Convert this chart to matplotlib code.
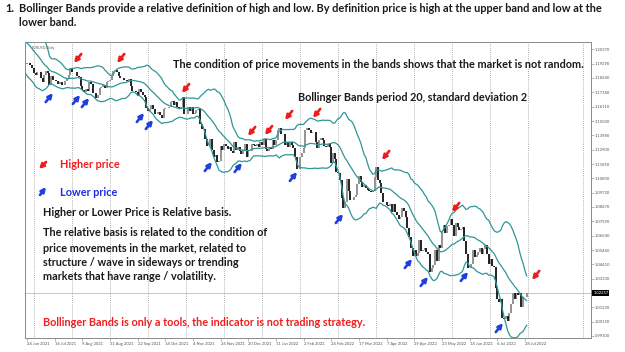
import numpy as np
import pandas as pd
import matplotlib
matplotlib.use('Agg')
import matplotlib.pyplot as plt
from matplotlib import transforms

plt.rcParams['font.family'] = ['Lato', 'DejaVu Sans']

# EURUSD daily closes (24 May 2021 - 23 Jun 2021 only feed the 20-day bands)
close_warmup = [1.2215, 1.2250, 1.2193, 1.2193, 1.2193, 1.2225,
                1.2213, 1.2212, 1.2127, 1.2167, 1.2190, 1.2172, 1.2178, 1.2174, 1.2108,
                1.2119, 1.2126, 1.1994, 1.1906, 1.1864, 1.1918, 1.1941, 1.1926]
close_2021_06 = [1.1933, 1.1937, 1.1923, 1.1895, 1.1858]
close_2021_07 = [1.1847, 1.1865, 1.1867, 1.1823, 1.1791, 1.1844, 1.1876, 1.1861, 1.1775, 1.1835, 1.1812,
                 1.1806, 1.1800, 1.1781, 1.1794, 1.1771, 1.1770, 1.1803, 1.1818, 1.1843, 1.1888, 1.1871]
close_2021_08 = [1.1870, 1.1866, 1.1835, 1.1834, 1.1762, 1.1736, 1.1718, 1.1739, 1.1730, 1.1795, 1.1778,
                 1.1712, 1.1710, 1.1676, 1.1700, 1.1747, 1.1755, 1.1773, 1.1752, 1.1795, 1.1799, 1.1808]
close_2021_09 = [1.1839, 1.1874, 1.1880, 1.1870, 1.1840, 1.1820, 1.1825, 1.1812, 1.1807, 1.1805, 1.1818,
                 1.1765, 1.1725, 1.1727, 1.1722, 1.1690, 1.1740, 1.1720, 1.1695, 1.1682, 1.1600, 1.1580]
close_2021_10 = [1.1595, 1.1620, 1.1597, 1.1555, 1.1553, 1.1570, 1.1550, 1.1530, 1.1595, 1.1598, 1.1600,
                 1.1610, 1.1645, 1.1655, 1.1625, 1.1645, 1.1606, 1.1598, 1.1605, 1.1680, 1.1557, 1.1560]
close_2021_11 = [1.1607, 1.1580, 1.1610, 1.1555, 1.1567, 1.1588, 1.1590, 1.1480, 1.1445, 1.1445, 1.1368,
                 1.1320, 1.1320, 1.1370, 1.1287, 1.1237, 1.1250, 1.1197, 1.1210, 1.1317, 1.1290, 1.1337]
close_2021_12 = [1.1320, 1.1300, 1.1315, 1.1285, 1.1265, 1.1345, 1.1290, 1.1315, 1.1285, 1.1258, 1.1290,
                 1.1330, 1.1238, 1.1280, 1.1285, 1.1330, 1.1325, 1.1320, 1.1330, 1.1310, 1.1350, 1.1325, 1.1370]
close_2022_01 = [1.1295, 1.1285, 1.1315, 1.1295, 1.1360, 1.1325, 1.1365, 1.1440, 1.1455, 1.1410, 1.1408,
                 1.1325, 1.1345, 1.1310, 1.1345, 1.1325, 1.1305, 1.1240, 1.1145, 1.1150, 1.1235]
close_2022_02 = [1.1270, 1.1305, 1.1440, 1.1450, 1.1440, 1.1415, 1.1425, 1.1425, 1.1350, 1.1305,
                 1.1360, 1.1375, 1.1360, 1.1320, 1.1310, 1.1330, 1.1310, 1.1190, 1.1270, 1.1220]
close_2022_03 = [1.1125, 1.1120, 1.1065, 1.0930, 1.0855, 1.0905, 1.1075, 1.0985, 1.0915, 1.0920, 1.0940,
                 1.0955, 1.1035, 1.1095, 1.1050, 1.1015, 1.1030, 1.1005, 1.0995, 1.0985, 1.0980, 1.0985,
                 1.1090, 1.1160, 1.1065]
close_2022_04 = [1.1045, 1.0970, 1.0905, 1.0900, 1.0880, 1.0875, 1.0885, 1.0830, 1.0890, 1.0825, 1.0810,
                 1.0780, 1.0790, 1.0855, 1.0835, 1.0795, 1.0710, 1.0640, 1.0560, 1.0500, 1.0545]
close_2022_05 = [1.0505, 1.0525, 1.0620, 1.0540, 1.0550, 1.0560, 1.0530, 1.0515, 1.0380, 1.0410, 1.0435,
                 1.0550, 1.0465, 1.0585, 1.0565, 1.0690, 1.0735, 1.0675, 1.0725, 1.0735, 1.0780, 1.0735]
close_2022_06 = [1.0650, 1.0750, 1.0720, 1.0695, 1.0705, 1.0715, 1.0615, 1.0520, 1.0410, 1.0415, 1.0445,
                 1.0550, 1.0495, 1.0510, 1.0535, 1.0565, 1.0520, 1.0555, 1.0585, 1.0520, 1.0445, 1.0480]
close_2022_07 = [1.0425, 1.0420, 1.0265, 1.0180, 1.0160, 1.0185, 1.0040, 1.0035, 1.0060, 1.0020, 1.0080,
                 1.0145, 1.0225, 1.0180, 1.0230, 1.0210, 1.0225, 1.0125, 1.0200, 1.0195, 1.02257]

date_labels = ['24 Jun 2021', '16 Jul 2021', '9 Aug 2021', '31 Aug 2021', '22 Sep 2021', '14 Oct 2021',
               '4 Nov 2021', '26 Nov 2021', '20 Dec 2021', '11 Jan 2022', '2 Feb 2022', '24 Feb 2022',
               '17 Mar 2022', '7 Apr 2022', '29 Apr 2022', '23 May 2022', '14 Jun 2022', '6 Jul 2022',
               '28 Jul 2022']
price_ticks = [1.20370, 1.19290, 1.18240, 1.17180, 1.16110, 1.15030, 1.13980, 1.12900, 1.11850, 1.10800,
               1.09720, 1.08670, 1.07590, 1.06540, 1.05460, 1.04410, 1.03330, 1.01230, 1.00150, 0.99100]
last_price = 1.02257

# arrows: (bar, price) of the arrow tip
red_tips_bar = [27.2, 52.1, 89.6, 127.8, 137.6, 149.2, 165.4, 205.3, 245.8, 292.1]
red_tips_px = [1.1935, 1.1935, 1.1712, 1.1393, 1.1400, 1.1512, 1.1527, 1.1215, 1.0829, 1.0324]
blue_tips_bar = [15.0, 30.7, 35.9, 67.7, 72.9, 107.0, 124.3, 156.2, 182.8, 222.7, 231.9, 255.1, 275.3]
blue_tips_px = [1.1712, 1.1698, 1.1675, 1.1564, 1.1512, 1.1200, 1.1193, 1.1126, 1.0814, 1.0480,
                1.0347, 1.0384, 1.0004]

closes = np.array(close_warmup + close_2021_06 + close_2021_07 + close_2021_08 + close_2021_09 +
                  close_2021_10 + close_2021_11 + close_2021_12 + close_2022_01 + close_2022_02 +
                  close_2022_03 + close_2022_04 + close_2022_05 + close_2022_06 + close_2022_07)
x = np.arange(len(closes)) - len(close_warmup)
opens = np.r_[closes[0], closes[:-1]]

s = pd.Series(closes)
mid = s.rolling(20).mean()
sd = s.rolling(20).std(ddof=0)
upper = mid + 2 * sd
lower = mid - 2 * sd

W, H = 625, 352
fig = plt.figure(figsize=(W / 100, H / 100), dpi=100)
ax = fig.add_axes([25 / W, (H - 338) / H, 566 / W, 296 / H])
ax.set_xlim(-1.16, 326.2)
ax.set_ylim(0.9893, 1.2091)

teal = '#2f9696'
for grid_bar in list(range(4, 292, 22)) + [321.5]:
    ax.axvline(grid_bar, color='#9a9a9a', lw=0.6, ls=(0, (1, 1.5)), zorder=0)
ax.axhline(last_price, color='#c8c8c8', lw=0.7, zorder=0)

up = closes >= opens
ax.vlines(x[up], opens[up], closes[up], color='#8a8a8a', lw=1.3, zorder=2)
ax.vlines(x[~up], opens[~up], closes[~up], color='#111111', lw=1.3, zorder=2)
for band in (upper, mid, lower):
    ax.plot(x, band, color=teal, lw=0.9, zorder=3)

arrow_kw = dict(arrowstyle='-|>', lw=1.9, mutation_scale=6.5, shrinkA=0, shrinkB=0)
for bx, by in zip(red_tips_bar, red_tips_px):
    ax.annotate('', xy=(bx, by), xytext=(5.2, 6.5), textcoords='offset points',
                arrowprops=dict(color='#ee1c1c', **arrow_kw), zorder=5)
for bx, by in zip(blue_tips_bar, blue_tips_px):
    ax.annotate('', xy=(bx, by), xytext=(-5.2, -6.5), textcoords='offset points',
                arrowprops=dict(color='#1f3fe0', **arrow_kw), zorder=5)

ax.yaxis.tick_right()
ax.set_yticks(price_ticks)
ax.set_yticklabels(['%.5f' % p for p in price_ticks], fontsize=3, color='#555555')
ax.set_xticks(np.arange(len(date_labels)) * 16)
ax.set_xticklabels(date_labels, fontsize=3, color='#555555', ha='left')
ax.tick_params(length=2, width=0.4, color='#888888', pad=1)
for sp in ax.spines.values():
    sp.set_color('#8a8a8a')
    sp.set_linewidth(0.7)

trans = transforms.blended_transform_factory(ax.transAxes, ax.transData)
ax.text(1.004, last_price, '%.5f' % last_price, transform=trans, fontsize=3, color='white',
        va='center', ha='left', bbox=dict(facecolor='black', edgecolor='none', pad=0.6))
ax.text(0.012, 0.985, 'EURUSD,Daily', transform=ax.transAxes, fontsize=2.6, color='#666666',
        va='top', ha='left')


def ft(px, py, txt, **kw):
    fig.text(px / W, 1 - py / H, txt, va='center', ha='left', fontweight='bold', **kw)


ink = '#1a1a1a'
fs = 7.85
ft(5, 8, '1.', fontsize=7.9, color=ink)
ft(19, 8, 'Bollinger Bands provide a relative definition of high and low. By definition price is high '
   'at the upper band and low at the', fontsize=7.9, color=ink)
ft(19, 22, 'lower band.', fontsize=7.9, color=ink)
ft(173, 64, 'The condition of price movements in the bands shows that the market is not random.',
   fontsize=fs, color=ink)
ft(298, 98, 'Bollinger Bands period 20, standard deviation 2', fontsize=fs, color=ink)
ft(60, 165, 'Higher price', fontsize=fs, color='#f01e1e')
ft(60, 193, 'Lower price', fontsize=fs, color='#1f2fe0')
ft(43, 212, 'Higher or Lower Price is Relative basis.', fontsize=fs, color=ink)
ft(43, 233, 'The relative basis is related to the condition of', fontsize=fs, color=ink)
ft(43, 248, 'price movements in the market, related to', fontsize=fs, color=ink)
ft(43, 262, 'structure / wave in sideways or trending', fontsize=fs, color=ink)
ft(43, 277, 'markets that have range / volatility.', fontsize=fs, color=ink)
ft(43, 322, 'Bollinger Bands is only a tools, the indicator is not trading strategy.', fontsize=fs,
   color='#f01e1e')

# legend arrows
fig.add_artist(plt.Annotation('', xy=(39 / W, 1 - 169 / H), xytext=(46 / W, 1 - 162 / H),
                              xycoords='figure fraction', textcoords='figure fraction',
                              arrowprops=dict(color='#ee1c1c', **arrow_kw)))
fig.add_artist(plt.Annotation('', xy=(46 / W, 1 - 187 / H), xytext=(40 / W, 1 - 195 / H),
                              xycoords='figure fraction', textcoords='figure fraction',
                              arrowprops=dict(color='#1f3fe0', **arrow_kw)))

fig.savefig('out.png', dpi=100, facecolor='white')
